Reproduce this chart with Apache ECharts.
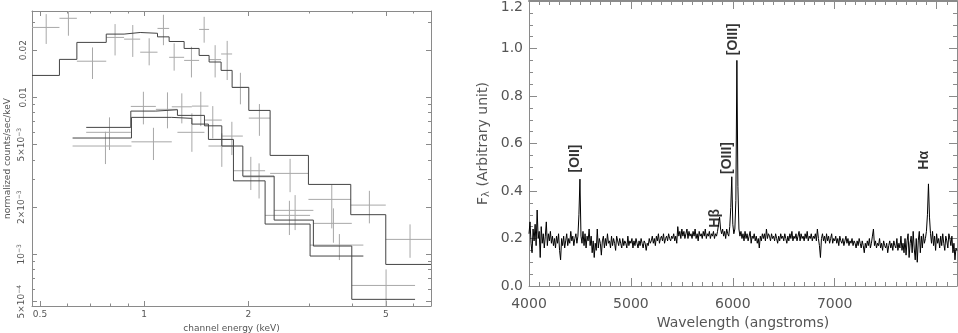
<!DOCTYPE html>
<html>
<head>
<meta charset="utf-8">
<script src="https://cdn.jsdelivr.net/npm/echarts@6.0.0/dist/echarts.min.js"></script>
<style>
  html, body { margin: 0; padding: 0; background: #fff; }
  #main { width: 958px; height: 333px; }
</style>
</head>
<body>
<div id="main"></div>
<script>
// ---- left panel: X-ray spectrum (log-log) ----
const energyTicks = [0.5, 1, 2, 5];
const energyMinorTicks = [0.6, 0.7, 0.8, 0.9, 3, 4, 6];
const countTicks = [5e-4, 1e-3, 2e-3, 5e-3, 0.01, 0.02];
const countTickLabels = ['5×10{s|−4}', '10{s|−3}', '2×10{s|−3}', '5×10{s|−3}', '0.01', '0.02'];
const countMinorTicks = [6e-4, 7e-4, 8e-4, 9e-4, 3e-3, 4e-3, 6e-3, 7e-3, 8e-3, 9e-3, 0.03];

// folded models (step histograms): bin edges and bin values
const modelHiEdges = [0.474, 0.569, 0.639, 0.777, 0.875, 0.974, 1.093, 1.181, 1.305, 1.442, 1.541, 1.669, 1.796, 2.007, 2.313, 2.985, 3.957, 4.995, 6.75];
const modelHiVals = [0.0138, 0.01746, 0.0224, 0.0253, 0.0259, 0.0256, 0.0243, 0.0227, 0.0205, 0.0185, 0.0168, 0.01486, 0.01158, 0.00826, 0.00427, 0.00279, 0.00179, 0.000863];
const modelMidEdges = [0.680, 0.915, 1.081, 1.248, 1.494, 1.677, 1.929, 2.376, 3.085, 3.984, 6.07];
const modelMidVals = [0.00644, 0.00818, 0.00834, 0.00768, 0.00659, 0.00490, 0.00315, 0.001654, 0.00113, 0.000517];
const modelLoEdges = [0.621, 0.919, 1.202, 1.374, 1.534, 1.812, 2.237, 3.018, 4.303];
const modelLoVals = [0.00551, 0.00746, 0.00735, 0.00676, 0.00540, 0.00294, 0.00156, 0.000976];

// data points: [energy, rate, energyLo, energyHi, rateLo, rateHi]
const dataHi = [
  [0.521, 0.0279, 0.474, 0.569, 0.0219, 0.0339],
  [0.604, 0.0319, 0.569, 0.639, 0.0247, 0.0400],
  [0.709, 0.0170, 0.639, 0.777, 0.0131, 0.0208],
  [0.824, 0.0241, 0.777, 0.875, 0.0185, 0.0293],
  [0.927, 0.0235, 0.875, 0.974, 0.0181, 0.0289],
  [1.034, 0.0194, 0.974, 1.093, 0.0160, 0.0238],
  [1.137, 0.0275, 1.093, 1.181, 0.0215, 0.0336],
  [1.221, 0.0180, 1.181, 1.305, 0.0148, 0.0221],
  [1.370, 0.0172, 1.305, 1.442, 0.0134, 0.0210],
  [1.491, 0.0271, 1.442, 1.541, 0.0223, 0.0326],
  [1.604, 0.0174, 1.541, 1.669, 0.0134, 0.0215],
  [1.738, 0.0189, 1.669, 1.796, 0.0129, 0.0229],
  [1.898, 0.01158, 1.796, 2.007, 0.00903, 0.01434],
  [2.154, 0.00738, 2.007, 2.313, 0.00569, 0.00907],
  [2.642, 0.00328, 2.313, 2.985, 0.00249, 0.00406],
  [3.487, 0.00224, 2.985, 3.957, 0.001464, 0.00279],
  [4.479, 0.00206, 3.957, 4.995, 0.001576, 0.00254],
  [5.871, 0.001246, 4.995, 6.75, 0.000951, 0.001553]
];
const dataMid = [
  [0.794, 0.00599, 0.680, 0.915, 0.00462, 0.00746],
  [0.995, 0.00876, 0.915, 1.081, 0.00673, 0.01086],
  [1.168, 0.00839, 1.081, 1.248, 0.00635, 0.01076],
  [1.374, 0.00599, 1.248, 1.494, 0.00450, 0.00791],
  [1.579, 0.00717, 1.494, 1.677, 0.00548, 0.00880],
  [1.793, 0.00567, 1.677, 1.929, 0.00429, 0.00699],
  [2.149, 0.00312, 1.929, 2.376, 0.00227, 0.00380],
  [2.732, 0.001907, 2.376, 3.085, 0.001428, 0.002385],
  [3.525, 0.001576, 3.085, 3.984, 0.001186, 0.001963],
  [5.005, 0.000634, 3.984, 6.07, 0.00040, 0.000802]
];
const dataLo = [
  [0.773, 0.00490, 0.621, 0.919, 0.00376, 0.00604],
  [1.064, 0.00521, 0.919, 1.202, 0.00399, 0.00640],
  [1.285, 0.00871, 1.202, 1.374, 0.00683, 0.01061],
  [1.458, 0.00880, 1.374, 1.534, 0.00656, 0.01086],
  [1.677, 0.00490, 1.534, 1.812, 0.00361, 0.00590],
  [2.034, 0.00341, 1.812, 2.237, 0.00257, 0.00418],
  [2.630, 0.001772, 2.237, 3.018, 0.001328, 0.002195],
  [3.668, 0.001146, 3.018, 4.303, 0.00092, 0.001347]
];

// ---- right panel: optical spectrum ----
const waveStart = 4000;
const waveStep = 10;
const flux = [
  0.22, 0.27, 0.18, 0.14, 0.24, 0.19, 0.26, 0.17, 0.32, 0.20,
  0.23, 0.12, 0.25, 0.18, 0.22, 0.16, 0.21, 0.27, 0.17, 0.22,
  0.19, 0.23, 0.18, 0.21, 0.17, 0.20, 0.16, 0.21, 0.18, 0.22,
  0.15, 0.11, 0.20, 0.17, 0.21, 0.16, 0.19, 0.22, 0.17, 0.20,
  0.18, 0.23, 0.19, 0.21, 0.17, 0.20, 0.22, 0.18, 0.21, 0.30,
  0.45, 0.21, 0.18, 0.23, 0.17, 0.22, 0.16, 0.21, 0.19, 0.24,
  0.17, 0.21, 0.14, 0.19, 0.12, 0.18, 0.15, 0.24, 0.16, 0.20,
  0.18, 0.13, 0.19, 0.21, 0.16, 0.20, 0.17, 0.22, 0.18, 0.19,
  0.16, 0.21, 0.17, 0.20, 0.18, 0.15, 0.21, 0.19, 0.17, 0.20,
  0.18, 0.16, 0.20, 0.17, 0.19, 0.18, 0.16, 0.21, 0.17, 0.19,
  0.18, 0.20, 0.16, 0.19, 0.17, 0.20, 0.18, 0.16, 0.19, 0.17,
  0.20, 0.18, 0.16, 0.19, 0.18, 0.15, 0.18, 0.17, 0.20, 0.18,
  0.19, 0.21, 0.18, 0.20, 0.17, 0.21, 0.19, 0.22, 0.18, 0.20,
  0.21, 0.19, 0.22, 0.18, 0.20, 0.21, 0.19, 0.22, 0.20, 0.19,
  0.21, 0.20, 0.22, 0.19, 0.21, 0.18, 0.25, 0.21, 0.23, 0.20,
  0.24, 0.21, 0.23, 0.20, 0.22, 0.24, 0.20, 0.23, 0.21, 0.22,
  0.20, 0.23, 0.21, 0.24, 0.20, 0.22, 0.19, 0.23, 0.21, 0.22,
  0.20, 0.23, 0.21, 0.24, 0.20, 0.22, 0.21, 0.23, 0.20, 0.22,
  0.21, 0.23, 0.20, 0.22, 0.21, 0.23, 0.26, 0.29, 0.24, 0.22,
  0.24, 0.21, 0.23, 0.20, 0.24, 0.22, 0.21, 0.25, 0.33, 0.46,
  0.26, 0.22, 0.24, 0.36, 0.95, 0.42, 0.24, 0.21, 0.23, 0.20,
  0.22, 0.19, 0.23, 0.20, 0.22, 0.19, 0.21, 0.23, 0.18, 0.21,
  0.20, 0.22, 0.19, 0.21, 0.18, 0.20, 0.16, 0.21, 0.19, 0.22,
  0.20, 0.22, 0.19, 0.24, 0.20, 0.22, 0.21, 0.19, 0.22, 0.20,
  0.21, 0.19, 0.22, 0.20, 0.18, 0.21, 0.19, 0.22, 0.20, 0.21,
  0.19, 0.22, 0.20, 0.18, 0.21, 0.19, 0.22, 0.20, 0.23, 0.19,
  0.21, 0.20, 0.22, 0.19, 0.21, 0.23, 0.19, 0.22, 0.20, 0.21,
  0.19, 0.22, 0.20, 0.23, 0.19, 0.21, 0.20, 0.22, 0.19, 0.21,
  0.20, 0.22, 0.19, 0.24, 0.20, 0.17, 0.12, 0.20, 0.22, 0.19,
  0.21, 0.18, 0.22, 0.19, 0.21, 0.18, 0.20, 0.22, 0.18, 0.20,
  0.19, 0.21, 0.18, 0.20, 0.17, 0.21, 0.19, 0.18, 0.20, 0.17,
  0.19, 0.21, 0.18, 0.20, 0.17, 0.19, 0.18, 0.20, 0.17, 0.19,
  0.18, 0.16, 0.19, 0.17, 0.20, 0.18, 0.16, 0.19, 0.17, 0.14,
  0.18, 0.16, 0.19, 0.17, 0.20, 0.16, 0.18, 0.21, 0.24, 0.17,
  0.19, 0.16, 0.18, 0.17, 0.20, 0.16, 0.18, 0.15, 0.19, 0.17,
  0.16, 0.18, 0.14, 0.17, 0.19, 0.16, 0.18, 0.15, 0.19, 0.17,
  0.16, 0.20, 0.15, 0.18, 0.16, 0.21, 0.15, 0.18, 0.14, 0.20,
  0.13, 0.19, 0.22, 0.12, 0.18, 0.21, 0.14, 0.23, 0.16, 0.11,
  0.20, 0.10, 0.19, 0.23, 0.14, 0.21, 0.16, 0.22, 0.18, 0.20,
  0.23, 0.30, 0.43, 0.29, 0.22, 0.18, 0.23, 0.17, 0.21, 0.15,
  0.22, 0.18, 0.20, 0.16, 0.21, 0.17, 0.22, 0.18, 0.15, 0.21,
  0.19, 0.16, 0.22, 0.20, 0.17, 0.21, 0.14, 0.18, 0.11, 0.16,
  0.15
];
const waveTicks = [4000, 5000, 6000, 7000, 8000];
// emission line labels: name, wavelength, flux
const lineNames = ['[OII]', 'Hβ', '[OIII]', '[OIII]', 'Hα'];
const lineWaves = [4457, 5830, 5941, 6006, 7882];
const lineFlux = [0.537, 0.285, 0.539, 1.039, 0.529];

const axisGrey = '#8a8a8a';
const textGrey = '#555';

function stepData(edges, vals) {
  const d = vals.map((v, i) => [edges[i], v]);
  d.push([edges[edges.length - 1], vals[vals.length - 1]]);
  return d;
}

function modelSeries(edges, vals, color) {
  return {
    type: 'line', xAxisIndex: 0, yAxisIndex: 0, step: 'end',
    showSymbol: false, silent: true, clip: true,
    lineStyle: { color: color, width: 1 },
    data: stepData(edges, vals)
  };
}

function crossSeries(rows) {
  return {
    type: 'custom', xAxisIndex: 0, yAxisIndex: 0, clip: true, silent: true,
    encode: { x: 0, y: 1 },
    data: rows,
    renderItem: function (params, api) {
      const c = api.coord([api.value(0), api.value(1)]);
      const l = api.coord([api.value(2), api.value(1)]);
      const r = api.coord([api.value(3), api.value(1)]);
      const b = api.coord([api.value(0), api.value(4)]);
      const t = api.coord([api.value(0), api.value(5)]);
      const st = { stroke: '#a8a8a8', lineWidth: 1 };
      return {
        type: 'group',
        children: [
          { type: 'line', shape: { x1: l[0], y1: c[1], x2: r[0], y2: c[1] }, style: st },
          { type: 'line', shape: { x1: c[0], y1: b[1], x2: c[0], y2: t[1] }, style: st }
        ]
      };
    }
  };
}

// log axis helper for the left panel
function logAxis(pos, grid, min, max, ticks, len, withLine, labels) {
  return {
    type: 'log', gridIndex: grid, position: pos, min: min, max: max,
    axisLine: { show: withLine, lineStyle: { color: axisGrey, width: 1 } },
    axisTick: { show: true, inside: true, length: len, customValues: ticks,
      lineStyle: { color: axisGrey } },
    axisLabel: labels || { show: false },
    splitLine: { show: false }
  };
}

const leftXLabels = {
  show: true, customValues: energyTicks, margin: 4,
  color: textGrey, fontSize: 9, fontFamily: 'DejaVu Sans',
  formatter: v => String(v)
};
const leftYLabels = {
  show: true, customValues: countTicks, margin: 4, rotate: 90,
  color: textGrey, fontSize: 9, fontFamily: 'DejaVu Sans',
  formatter: v => {
    const i = countTicks.findIndex(t => Math.abs(t - v) / t < 1e-6);
    return i >= 0 ? countTickLabels[i] : '';
  },
  rich: { s: { fontSize: 6, color: textGrey, fontFamily: 'DejaVu Sans', padding: [0, 0, 6, 0] } }
};

const xMin = 0.474, xMax = 6.75, yMin = 4.69e-4, yMax = 0.0355;

const chart = echarts.init(document.getElementById('main'));
const option = {
  animation: false,
  backgroundColor: '#fff',
  grid: [
    { left: 32, top: 11, width: 399, height: 295, outerBoundsMode: 'none' },
    { left: 529, top: 1, width: 428, height: 285, outerBoundsMode: 'none' }
  ],
  xAxis: [
    Object.assign(logAxis('bottom', 0, xMin, xMax, energyTicks, 5, true, leftXLabels), {
      name: 'channel energy (keV)', nameLocation: 'middle', nameGap: 15,
      nameTextStyle: { color: textGrey, fontSize: 9, fontFamily: 'DejaVu Sans' }
    }),
    logAxis('bottom', 0, xMin, xMax, energyMinorTicks, 2.5, false),
    logAxis('top', 0, xMin, xMax, energyTicks, 5, true),
    logAxis('top', 0, xMin, xMax, energyMinorTicks, 2.5, false),
    {
      type: 'value', gridIndex: 1, position: 'bottom', min: 4000, max: 8200, interval: 1000,
      axisLine: { lineStyle: { color: axisGrey, width: 1 } },
      axisTick: { inside: true, length: 8, lineStyle: { color: axisGrey } },
      axisLabel: { margin: 11, showMaxLabel: false, color: textGrey, fontSize: 14, fontFamily: 'DejaVu Sans',
        customValues: waveTicks, formatter: v => String(v) },
      splitLine: { show: false },
      name: 'Wavelength (angstroms)', nameLocation: 'middle', nameGap: 30,
      nameTextStyle: { color: textGrey, fontSize: 14, fontFamily: 'DejaVu Sans' }
    },
    {
      type: 'value', gridIndex: 1, position: 'bottom', min: 4000, max: 8200, interval: 100,
      axisLine: { show: false },
      axisTick: { inside: true, length: 4, lineStyle: { color: axisGrey } },
      axisLabel: { show: false }, splitLine: { show: false }
    },
    {
      type: 'value', gridIndex: 1, position: 'top', min: 4000, max: 8200, interval: 1000,
      axisLine: { lineStyle: { color: axisGrey, width: 2 } },
      axisTick: { inside: true, length: 8, lineStyle: { color: axisGrey } },
      axisLabel: { show: false }, splitLine: { show: false }
    },
    {
      type: 'value', gridIndex: 1, position: 'top', min: 4000, max: 8200, interval: 100,
      axisLine: { show: false },
      axisTick: { inside: true, length: 4, lineStyle: { color: axisGrey } },
      axisLabel: { show: false }, splitLine: { show: false }
    }
  ],
  yAxis: [
    Object.assign(logAxis('left', 0, yMin, yMax, countTicks, 5, true, leftYLabels), {
      name: 'normalized counts/sec/keV', nameLocation: 'middle', nameGap: 20,
      nameTextStyle: { color: textGrey, fontSize: 9, fontFamily: 'DejaVu Sans' }
    }),
    logAxis('left', 0, yMin, yMax, countMinorTicks, 3, false),
    logAxis('right', 0, yMin, yMax, countTicks, 5, true),
    logAxis('right', 0, yMin, yMax, countMinorTicks, 3, false),
    {
      type: 'value', gridIndex: 1, position: 'left', min: 0, max: 1.2, interval: 0.2,
      axisLine: { show: true, lineStyle: { color: axisGrey, width: 1 } },
      axisTick: { show: true, inside: true, length: 8, lineStyle: { color: axisGrey } },
      minorTick: { show: true, splitNumber: 4, length: 4, lineStyle: { color: axisGrey } },
      axisLabel: { margin: 6, color: textGrey, fontSize: 14, fontFamily: 'DejaVu Sans',
        formatter: v => (v >= 1.19 ? '{t|' + v.toFixed(1) + '}' : v.toFixed(1)),
        rich: { t: { color: textGrey, fontSize: 14, fontFamily: 'DejaVu Sans', padding: [12, 0, 0, 0] } } },
      splitLine: { show: false },
      name: '{f|F}{l|λ}{f| (Arbitrary unit)}', nameLocation: 'middle', nameGap: 38,
      nameTextStyle: {
        color: textGrey, fontSize: 14, fontFamily: 'DejaVu Sans',
        rich: {
          f: { color: textGrey, fontSize: 14, fontFamily: 'DejaVu Sans' },
          l: { color: textGrey, fontSize: 10, fontFamily: 'DejaVu Sans', padding: [6, 0, 0, 0] }
        }
      }
    },
    {
      type: 'value', gridIndex: 1, position: 'right', min: 0, max: 1.2, interval: 0.2,
      axisLine: { show: true, lineStyle: { color: axisGrey, width: 1 } },
      axisTick: { show: true, inside: true, length: 8, lineStyle: { color: axisGrey } },
      minorTick: { show: true, splitNumber: 4, length: 4, lineStyle: { color: axisGrey } },
      axisLabel: { show: false }, splitLine: { show: false }
    }
  ],
  series: [
    crossSeries(dataHi),
    crossSeries(dataMid),
    crossSeries(dataLo),
    modelSeries(modelHiEdges, modelHiVals, '#444'),
    modelSeries(modelMidEdges, modelMidVals, '#444'),
    modelSeries(modelLoEdges, modelLoVals, '#444'),
    {
      type: 'line', xAxisIndex: 4, yAxisIndex: 4, showSymbol: false, silent: true, clip: true,
      lineStyle: { color: '#000', width: 1 },
      data: flux.map((f, i) => [waveStart + i * waveStep, f])
    },
    {
      type: 'scatter', xAxisIndex: 4, yAxisIndex: 4, symbolSize: 0, silent: true,
      label: {
        show: true, position: 'inside', rotate: 90, formatter: p => p.name,
        color: '#000', fontSize: 14, fontWeight: 'bold', fontFamily: 'Liberation Sans'
      },
      data: lineNames.map((n, i) => ({ name: n, value: [lineWaves[i], lineFlux[i]] }))
    }
  ]
};
chart.setOption(option);
</script>
</body>
</html>
